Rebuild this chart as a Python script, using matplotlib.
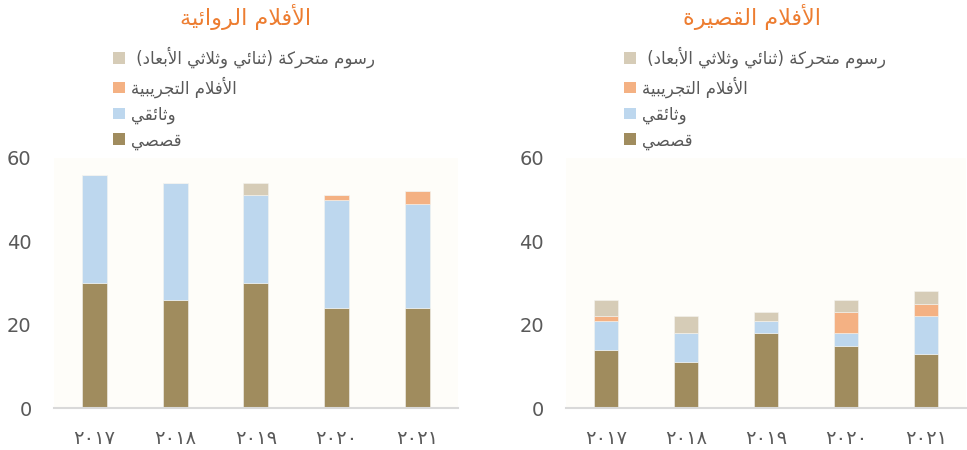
import matplotlib
matplotlib.use('Agg')
import matplotlib.pyplot as plt
from matplotlib.patches import Patch

# Datos
years = ['٢٠١٧', '٢٠١٨', '٢٠١٩', '٢٠٢٠', '٢٠٢١']

feature_fiction = [30, 26, 30, 24, 24]
feature_documentary = [26, 28, 21, 26, 25]
feature_experimental = [0, 0, 0, 1, 3]
feature_animation = [0, 0, 3, 0, 0]

short_fiction = [14, 11, 18, 15, 13]
short_documentary = [7, 7, 3, 3, 9]
short_experimental = [1, 0, 0, 5, 3]
short_animation = [4, 4, 2, 3, 3]

title_feature = 'الأفلام الروائية'
title_short = 'الأفلام القصيرة'
series_names = ['قصصي', 'وثائقي', 'الأفلام التجريبية', 'رسوم متحركة (ثنائي وثلاثي الأبعاد) ']
series_colors = ['#A08C5E', '#BDD7EE', '#F4B183', '#D6CCB7']

# Formas contextuales árabes (matplotlib no da forma al texto árabe)
FORMS = {
    'ء': (0xFE80, 1), 'آ': (0xFE81, 2), 'أ': (0xFE83, 2), 'ؤ': (0xFE85, 2),
    'إ': (0xFE87, 2), 'ئ': (0xFE89, 4), 'ا': (0xFE8D, 2), 'ب': (0xFE8F, 4),
    'ة': (0xFE93, 2), 'ت': (0xFE95, 4), 'ث': (0xFE99, 4), 'ج': (0xFE9D, 4),
    'ح': (0xFEA1, 4), 'خ': (0xFEA5, 4), 'د': (0xFEA9, 2), 'ذ': (0xFEAB, 2),
    'ر': (0xFEAD, 2), 'ز': (0xFEAF, 2), 'س': (0xFEB1, 4), 'ش': (0xFEB5, 4),
    'ص': (0xFEB9, 4), 'ض': (0xFEBD, 4), 'ط': (0xFEC1, 4), 'ظ': (0xFEC5, 4),
    'ع': (0xFEC9, 4), 'غ': (0xFECD, 4), 'ف': (0xFED1, 4), 'ق': (0xFED5, 4),
    'ك': (0xFED9, 4), 'ل': (0xFEDD, 4), 'م': (0xFEE1, 4), 'ن': (0xFEE5, 4),
    'ه': (0xFEE9, 4), 'و': (0xFEED, 2), 'ى': (0xFEEF, 2), 'ي': (0xFEF1, 4),
}
LAM_ALEF = {'آ': 0xFEF5, 'أ': 0xFEF7, 'إ': 0xFEF9, 'ا': 0xFEFB}


def shape(text):
    out = []
    prev = None
    i = 0
    while i < len(text):
        c = text[i]
        if c not in FORMS:
            out.append(c)
            prev = None
            i += 1
            continue
        con_prev = prev is not None and FORMS[prev][1] == 4 and FORMS[c][1] >= 2
        if c == 'ل' and i + 1 < len(text) and text[i + 1] in LAM_ALEF:
            out.append(chr(LAM_ALEF[text[i + 1]] + (1 if con_prev else 0)))
            prev = 'ا'
            i += 2
            continue
        nxt = text[i + 1] if i + 1 < len(text) else None
        con_next = (nxt in FORMS and FORMS[c][1] == 4 and FORMS[nxt][1] >= 2)
        if con_prev and con_next:
            off = 3
        elif con_prev:
            off = 1
        elif con_next:
            off = 2
        else:
            off = 0
        out.append(chr(FORMS[c][0] + off))
        prev = c
        i += 1
    visual = ''.join(reversed(out))
    return visual.translate(str.maketrans('()', ')('))


plt.rcParams['font.family'] = ['DejaVu Sans']
gray = '#595959'

fig = plt.figure(figsize=(9.67, 4.5), dpi=100)
ax1 = fig.add_axes([0.0558, 0.0933, 0.4178, 0.5556])
ax2 = fig.add_axes([0.5853, 0.0933, 0.4137, 0.5556])


def draw_panel(ax, title, title_x, legend_x, fiction, documentary, experimental, animation):
    ax.set_facecolor('#FEFDF9')
    x = range(len(years))
    values = [fiction, documentary, experimental, animation]
    bottom = [0] * len(years)
    for vals, color in zip(values, series_colors):
        ax.bar(x, vals, bottom=bottom, width=0.31, color=color,
               edgecolor='#F4F4F0', linewidth=0.4)
        bottom = [b + v for b, v in zip(bottom, vals)]

    ax.set_xlim(-0.5, len(years) - 0.5)
    ax.set_ylim(0, 60)
    ax.set_yticks([0, 20, 40, 60])
    ax.set_xticks(list(x))
    ax.set_xticklabels(years, fontsize=14)
    ax.tick_params(axis='y', length=0, pad=16, labelsize=14, labelcolor=gray)
    ax.tick_params(axis='x', length=0, pad=15, labelcolor=gray)
    for side in ['top', 'left', 'right']:
        ax.spines[side].set_visible(False)
    ax.spines['bottom'].set_color('#D9D9D9')
    ax.spines['bottom'].set_linewidth(1.5)

    fig.text(title_x, 1 - 17 / 450, shape(title), color='#ED7D31', fontsize=16,
             ha='center', va='center')

    handles = [Patch(facecolor=c, edgecolor='none') for c in series_colors][::-1]
    labels = [shape(s) for s in series_names][::-1]
    ax.legend(handles, labels, loc='upper left', bbox_to_anchor=(legend_x, 1 - 47 / 450),
              bbox_transform=fig.transFigure, frameon=False, fontsize=12,
              handlelength=0.72, handleheight=0.72, handletextpad=0.35,
              labelspacing=0.46, borderpad=0, borderaxespad=0, labelcolor=gray)


draw_panel(ax1, title_feature, 246 / 967, 113 / 967,
           feature_fiction, feature_documentary, feature_experimental, feature_animation)
draw_panel(ax2, title_short, 752 / 967, 624 / 967,
           short_fiction, short_documentary, short_experimental, short_animation)

fig.savefig('out.png', dpi=100)
